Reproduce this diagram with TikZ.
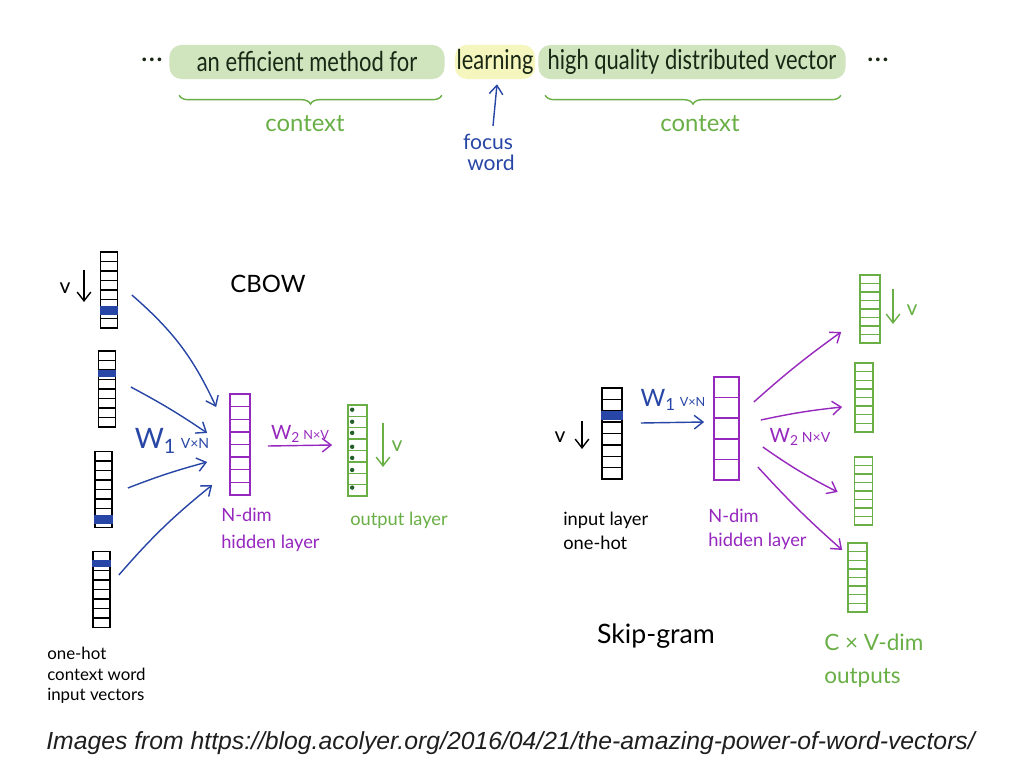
\documentclass[tikz,border=0pt]{standalone}
\usepackage{fontspec}
\setmainfont{Lato}
\newfontfamily\narrowhand[FakeStretch=0.8]{Lato}
\newfontfamily\capfont{Liberation Sans}
\usetikzlibrary{arrows.meta,decorations.pathreplacing,calc,positioning}

\definecolor{inkblue}{RGB}{40,70,165}
\definecolor{inkpurple}{RGB}{150,40,190}
\definecolor{inkgreen}{RGB}{105,175,70}
\definecolor{dotgreen}{RGB}{35,95,40}
\definecolor{hlgreen}{RGB}{208,228,190}
\definecolor{hlyellow}{RGB}{245,245,190}
\definecolor{inkdark}{RGB}{25,40,20}

\tikzset{
  vecbox/.style n args={2}{draw=#1, line width=1.2pt, inner sep=0pt,
    path picture={\foreach \k [evaluate=\k as \f using \k/(#2+1)] in {1,...,#2}
      \draw[#1, line width=1pt]
        ($(path picture bounding box.north west)!\f!(path picture bounding box.south west)$) --
        ($(path picture bounding box.north east)!\f!(path picture bounding box.south east)$);}},
  hilite/.style={fill=#1, rounded corners=3mm, minimum height=8.5mm, inner sep=0pt,
    text=inkdark, font=\narrowhand\fontsize{19.5}{19.5}\selectfont},
  ink/.style={-{Straight Barb[length=2.2mm,width=3.4mm]}, line width=1pt},
  ctxbrace/.style={decorate, decoration={brace, mirror, amplitude=2.2mm}, inkgreen, line width=1pt},
  lbl/.style={font=\fontsize{13}{17}\selectfont, align=left, inner sep=0pt},
}

\newcommand{\hotcell}[3]{%
  \fill[inkblue] ($(#1.north west)!#2!(#1.south west)$) rectangle ($(#1.north east)!#3!(#1.south east)$);}

\begin{document}
\begin{tikzpicture}[x=0.025cm,y=-0.025cm]
\useasboundingbox[fill=white] (0,0) rectangle (1024,768);

% the sentence
\node[text=inkdark, font=\fontsize{21}{21}\selectfont] (dotsl) at (152,60) {\ldots};
\node[hilite=hlgreen, minimum width=68.75mm] (ctxl) at (307,62) {an efficient method for};
\node[hilite=hlyellow, minimum width=20mm] (focw) at (495,62) {learning};
\node[hilite=hlgreen, minimum width=76.75mm] (ctxr) at (692,62) {high quality distributed vector};
\node[text=inkdark, font=\fontsize{21}{21}\selectfont] (dotsr) at (878,60) {\ldots};

\draw[ctxbrace] ([shift={(10,16)}]ctxl.south west) -- ([shift={(-3,16)}]ctxl.south east);
\draw[ctxbrace] ([shift={(7,16)}]ctxr.south west) -- ([shift={(-5,16)}]ctxr.south east);
\node[text=inkgreen, font=\fontsize{17}{17}\selectfont] (ctxltxt) at (305,124) {context};
\node[text=inkgreen, font=\fontsize{17}{17}\selectfont] (ctxrtxt) at (700,124) {context};

\node[text=inkblue, font=\fontsize{15}{15}\selectfont, inner sep=0pt] (focus) at (488,142) {focus};
\node[text=inkblue, font=\fontsize{15}{15}\selectfont, inner sep=0pt] (fword) at (491,163) {word};
\draw[ink, inkblue] ([shift={(5,-8)}]focus.north) -- ([shift={(2,5)}]focw.south);

% CBOW
\node[font=\fontsize{17}{17}\selectfont] (cbow) at (268,284) {CBOW};

\node[vecbox={black}{7}, minimum width=4.25mm, minimum height=19mm] (in1) at (109,290) {};
\node[vecbox={black}{7}, minimum width=4.25mm, minimum height=19mm] (in2) at (107,389) {};
\node[vecbox={black}{7}, minimum width=4.25mm, minimum height=19mm] (in3) at (103.5,489.5) {};
\node[vecbox={black}{7}, minimum width=4.25mm, minimum height=19mm] (in4) at (101.5,589.5) {};
\hotcell{in1}{0.70}{0.82}
\hotcell{in2}{0.25}{0.34}
\hotcell{in3}{0.83}{0.95}
\hotcell{in4}{0.12}{0.21}

\node[font=\fontsize{15}{15}\selectfont, inner sep=0pt] (vin) at (65,288) {v};
\coordinate (vintop) at (84,270);
\coordinate (vinbot) at (84,302);
\draw[ink] (vintop) -- (vinbot);

\node[vecbox={inkpurple}{7}, minimum width=5mm, minimum height=25.25mm] (hid) at (240,444.5) {};
\node[vecbox={inkgreen}{7}, minimum width=4.75mm, minimum height=22.75mm] (outc) at (357.5,450.5) {};
\foreach \f in {0.06,0.19,0.31,0.46,0.58,0.71,0.9}
  \fill[dotgreen] ($(outc.north west)!\f!(outc.south west)+(5,0)$) circle[radius=2.2];

\draw[ink, inkblue] ([shift={(13.5,5)}]in1.east) to[bend left=12] ([shift={(-13,-37.5)}]hid.west);
\draw[ink, inkblue] ([shift={(14.5,-2)}]in2.east) to[bend left=3] ([shift={(-22,-11.5)}]hid.west);
\draw[ink, inkblue] ([shift={(15,-1.5)}]in3.east) to[bend left=3] ([shift={(-22,17.5)}]hid.west);
\draw[ink, inkblue] ([shift={(8,-14.5)}]in4.east) to[bend left=5] ([shift={(-17,40.5)}]hid.west);
\node[text=inkblue, inner sep=0pt] (w1c) at (172,441)
  {\fontsize{20}{20}\selectfont W\textsubscript{1}\,\fontsize{10}{10}\selectfont V×N};

\draw[ink, inkpurple] ([shift={(17,1.5)}]hid.east) -- ([shift={(-15,-5.5)}]outc.west);
\node[text=inkpurple, inner sep=0pt] (w2c) at (300,434)
  {\fontsize{14}{14}\selectfont W\textsubscript{2}\,\fontsize{9}{9}\selectfont N×V};

\node[text=inkgreen, font=\fontsize{15}{15}\selectfont, inner sep=0pt] (vout) at (397,446) {v};
\coordinate (vouttop) at (383,423);
\coordinate (voutbot) at (383,467);
\draw[ink, inkgreen] (vouttop) -- (voutbot);

\node[lbl, text=inkpurple, anchor=north west, font=\fontsize{13}{19}\selectfont] (hidtxt) at (221,508) {N-dim\\hidden layer};
\node[lbl, text=inkgreen, anchor=north west] (outtxt) at (350,512) {output layer};
\node[lbl, anchor=north west, font=\fontsize{12}{14.5}\selectfont] (intxt) at (47,647) {one-hot\\context word\\input vectors};

% Skip-gram
\node[vecbox={black}{7}, minimum width=5mm, minimum height=22.75mm] (sin) at (612,433.5) {};
\hotcell{sin}{0.26}{0.35}
\node[font=\fontsize{15}{15}\selectfont, inner sep=0pt] (vsin) at (560,437) {v};
\coordinate (vsintop) at (582,421);
\coordinate (vsinbot) at (582,449);
\draw[ink] (vsintop) -- (vsinbot);

\node[vecbox={inkpurple}{4}, minimum width=6.25mm, minimum height=25.75mm] (shid) at (726.5,428.5) {};
\draw[ink, inkblue] ([shift={(18,-10.5)}]sin.east) -- ([shift={(-9,-6.5)}]shid.west);
\node[text=inkblue, inner sep=0pt] (w1s) at (673,400)
  {\fontsize{17}{17}\selectfont W\textsubscript{1}\,\fontsize{9}{9}\selectfont V×N};

\node[vecbox={inkgreen}{7}, minimum width=5mm, minimum height=17mm] (so1) at (870,309) {};
\node[vecbox={inkgreen}{7}, minimum width=4.5mm, minimum height=17.25mm] (so2) at (864,397.5) {};
\node[vecbox={inkgreen}{7}, minimum width=4.5mm, minimum height=17mm] (so3) at (863.5,491) {};
\node[vecbox={inkgreen}{7}, minimum width=4.75mm, minimum height=17.25mm] (so4) at (857.5,577.5) {};

\draw[ink, inkpurple] ([shift={(14,-26.5)}]shid.east) to[bend left=3] ([shift={(-18,23)}]so1.west);
\draw[ink, inkpurple] ([shift={(21,-8.5)}]shid.east) to[bend left=3] ([shift={(-12,9.5)}]so2.west);
\draw[ink, inkpurple] ([shift={(23,18.5)}]shid.east) to[bend right=4] ([shift={(-16,1)}]so3.west);
\draw[ink, inkpurple] ([shift={(18,38.5)}]shid.east) to[bend right=3] ([shift={(-5,-27.5)}]so4.west);
\node[text=inkpurple, inner sep=0pt] (w2s) at (800,437)
  {\fontsize{14}{14}\selectfont W\textsubscript{2}\,\fontsize{10}{10}\selectfont N×V};

\node[text=inkgreen, font=\fontsize{15}{15}\selectfont, inner sep=0pt] (vso) at (912,310) {v};
\coordinate (vsotop) at (893,289);
\coordinate (vsobot) at (893,324);
\draw[ink, inkgreen] (vsotop) -- (vsobot);

\node[lbl, anchor=north west] (sintxt) at (563,512) {input layer\\one-hot};
\node[lbl, text=inkpurple, anchor=north west] (shidtxt) at (708,509) {N-dim\\hidden layer};
\node[font=\fontsize{19}{19}\selectfont] (skip) at (656,636) {Skip-gram};
\node[text=inkgreen, font=\fontsize{16}{23}\selectfont, align=left, anchor=north west, inner sep=0pt] (souttxt) at (824,634) {C × V-dim\\outputs};

% caption
\node[font=\capfont\itshape\fontsize{17.6}{17.6}\selectfont, text={rgb,255:red,30;green,30;blue,30}, anchor=west, inner sep=0pt] (caption) at (46,743)
  {Images from https://blog.acolyer.org/2016/04/21/the-amazing-power-of-word-vectors/};
\end{tikzpicture}
\end{document}
